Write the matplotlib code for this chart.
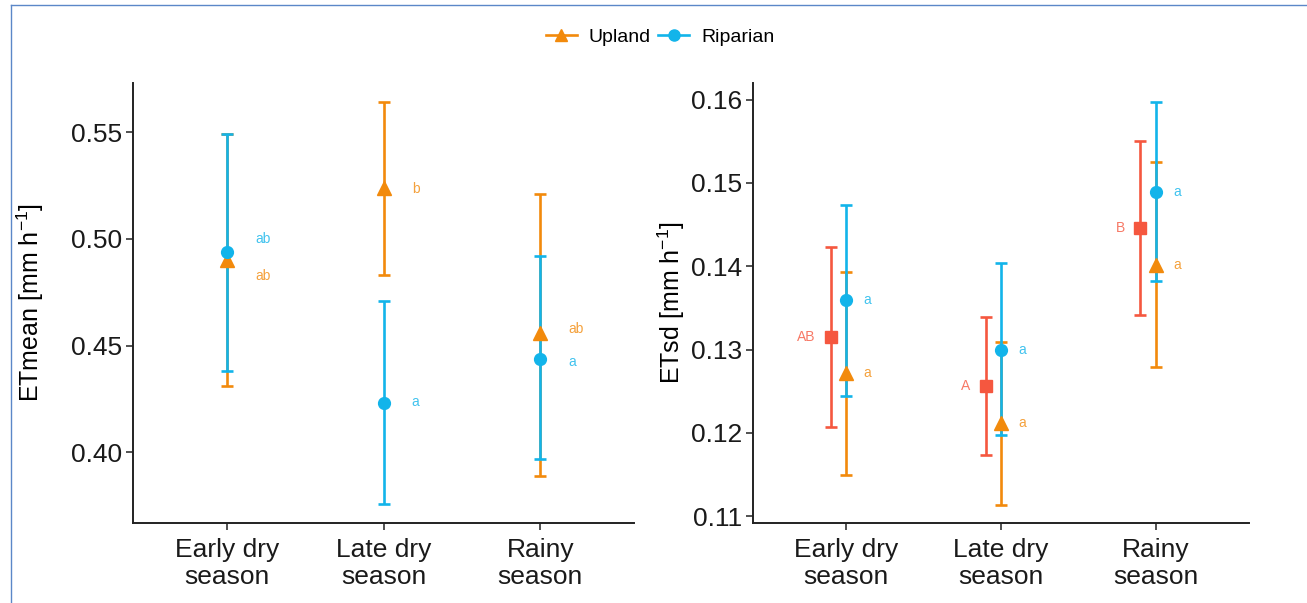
import matplotlib
matplotlib.use("Agg")
import matplotlib.pyplot as plt
from matplotlib.lines import Line2D
import numpy as np

plt.rcParams['font.family'] = ['Liberation Sans', 'DejaVu Sans']
plt.rcParams['mathtext.fontset'] = 'custom'
plt.rcParams['mathtext.rm'] = 'Liberation Sans'

seasons = ["Early dry\nseason", "Late dry\nseason", "Rainy\nseason"]

# ETmean (left panel)
mean_up = [0.490, 0.524, 0.456]
mean_up_lo = [0.431, 0.483, 0.389]
mean_up_hi = [0.549, 0.564, 0.521]
mean_rip = [0.494, 0.423, 0.444]
mean_rip_lo = [0.438, 0.376, 0.397]
mean_rip_hi = [0.549, 0.471, 0.492]
mean_up_lab = ["ab", "b", "ab"]
mean_rip_lab = ["ab", "a", "a"]
mean_up_lab_y = [0.4827, 0.5235, 0.4578]
mean_rip_lab_y = [0.5000, 0.4235, 0.4425]

# ETsd (right panel)
sd_all = [0.1315, 0.1256, 0.1446]
sd_all_lo = [0.1207, 0.1174, 0.1341]
sd_all_hi = [0.1423, 0.1339, 0.1550]
sd_up = [0.1272, 0.1212, 0.1402]
sd_up_lo = [0.1149, 0.1114, 0.1279]
sd_up_hi = [0.1393, 0.1309, 0.1525]
sd_rip = [0.1359, 0.1300, 0.1489]
sd_rip_lo = [0.1244, 0.1197, 0.1382]
sd_rip_hi = [0.1474, 0.1404, 0.1597]
sd_all_lab = ["AB", "A", "B"]
sd_up_lab = ["a", "a", "a"]
sd_rip_lab = ["a", "a", "a"]

c_up = '#F28A0C'
c_rip = '#12B4EA'
c_all = '#F5573F'

fig = plt.figure(figsize=(13.07, 6.03), dpi=100)
ax1 = fig.add_axes([0.1018, 0.1327, 0.3835, 0.7297])
ax2 = fig.add_axes([0.5765, 0.1327, 0.3790, 0.7297])

x = np.arange(1, 4)


def bars(ax, xs, y, lo, hi, color, marker, ms, z):
    y = np.array(y)
    err = [y - np.array(lo), np.array(hi) - y]
    ax.errorbar(xs, y, yerr=err, fmt='none', ecolor=color, elinewidth=1.9,
                capsize=4, capthick=1.9, zorder=z)
    ax.plot(xs, y, ls='none', marker=marker, color=color, ms=ms, zorder=z + 3)


# left panel
bars(ax1, x, mean_up, mean_up_lo, mean_up_hi, c_up, '^', 9.5, 2)
bars(ax1, x, mean_rip, mean_rip_lo, mean_rip_hi, c_rip, 'o', 8.5, 3)
for i in range(3):
    ax1.text(x[i] + 0.18, mean_up_lab_y[i], mean_up_lab[i], color=c_up,
             alpha=0.8, fontsize=10, ha='left', va='center')
    ax1.text(x[i] + 0.18, mean_rip_lab_y[i], mean_rip_lab[i], color=c_rip,
             alpha=0.8, fontsize=10, ha='left', va='center')
ax1.set_xlim(0.4, 3.6)
ax1.set_ylim(0.367, 0.573)
ax1.set_yticks([0.40, 0.45, 0.50, 0.55])
ax1.set_yticklabels(["0.40", "0.45", "0.50", "0.55"])
ax1.set_ylabel(r"ETmean [mm h$^{-1}$]", fontsize=18, labelpad=18)

# right panel
bars(ax2, x - 0.1, sd_all, sd_all_lo, sd_all_hi, c_all, 's', 8.5, 1)
bars(ax2, x, sd_up, sd_up_lo, sd_up_hi, c_up, '^', 9.5, 2)
bars(ax2, x, sd_rip, sd_rip_lo, sd_rip_hi, c_rip, 'o', 8.5, 3)
for i in range(3):
    ax2.text(x[i] - 0.2, sd_all[i], sd_all_lab[i], color=c_all,
             alpha=0.8, fontsize=10, ha='right', va='center')
    ax2.text(x[i] + 0.11, sd_up[i], sd_up_lab[i], color=c_up,
             alpha=0.8, fontsize=10, ha='left', va='center')
    ax2.text(x[i] + 0.11, sd_rip[i], sd_rip_lab[i], color=c_rip,
             alpha=0.8, fontsize=10, ha='left', va='center')
ax2.set_xlim(0.4, 3.6)
ax2.set_ylim(0.1092, 0.162)
ax2.set_yticks([0.11, 0.12, 0.13, 0.14, 0.15, 0.16])
ax2.set_yticklabels(["0.11", "0.12", "0.13", "0.14", "0.15", "0.16"])
ax2.set_ylabel(r"ETsd [mm h$^{-1}$]", fontsize=18, labelpad=3)

for ax in (ax1, ax2):
    ax.set_xticks(x)
    ax.set_xticklabels(seasons, linespacing=1.15)
    for s in ('top', 'right'):
        ax.spines[s].set_visible(False)
    for s in ('left', 'bottom'):
        ax.spines[s].set_linewidth(1.4)
        ax.spines[s].set_color('#222222')
    ax.tick_params(axis='both', labelsize=19, length=5, width=1.2,
                   color='#333333', labelcolor='#1a1a1a', pad=3)
    ax.tick_params(axis='x', pad=6)

# legend
handles = [Line2D([], [], color=c_up, marker='^', ms=9, lw=1.9),
           Line2D([], [], color=c_rip, marker='o', ms=8, lw=1.9)]
fig.legend(handles, ["Upland", "Riparian"], loc='center',
           bbox_to_anchor=(0.505, 0.938), ncol=2, frameon=False,
           fontsize=14, handlelength=1.6, handletextpad=0.6,
           columnspacing=0.4)

# thin frame around the figure
fig.add_artist(Line2D([11 / 1307, 11 / 1307], [0, 1 - 5 / 603],
                      transform=fig.transFigure, color='#5B87C8', lw=1))
fig.add_artist(Line2D([11 / 1307, 1], [1 - 5 / 603, 1 - 5 / 603],
                      transform=fig.transFigure, color='#5B87C8', lw=1))

fig.savefig("out.png", dpi=100)
